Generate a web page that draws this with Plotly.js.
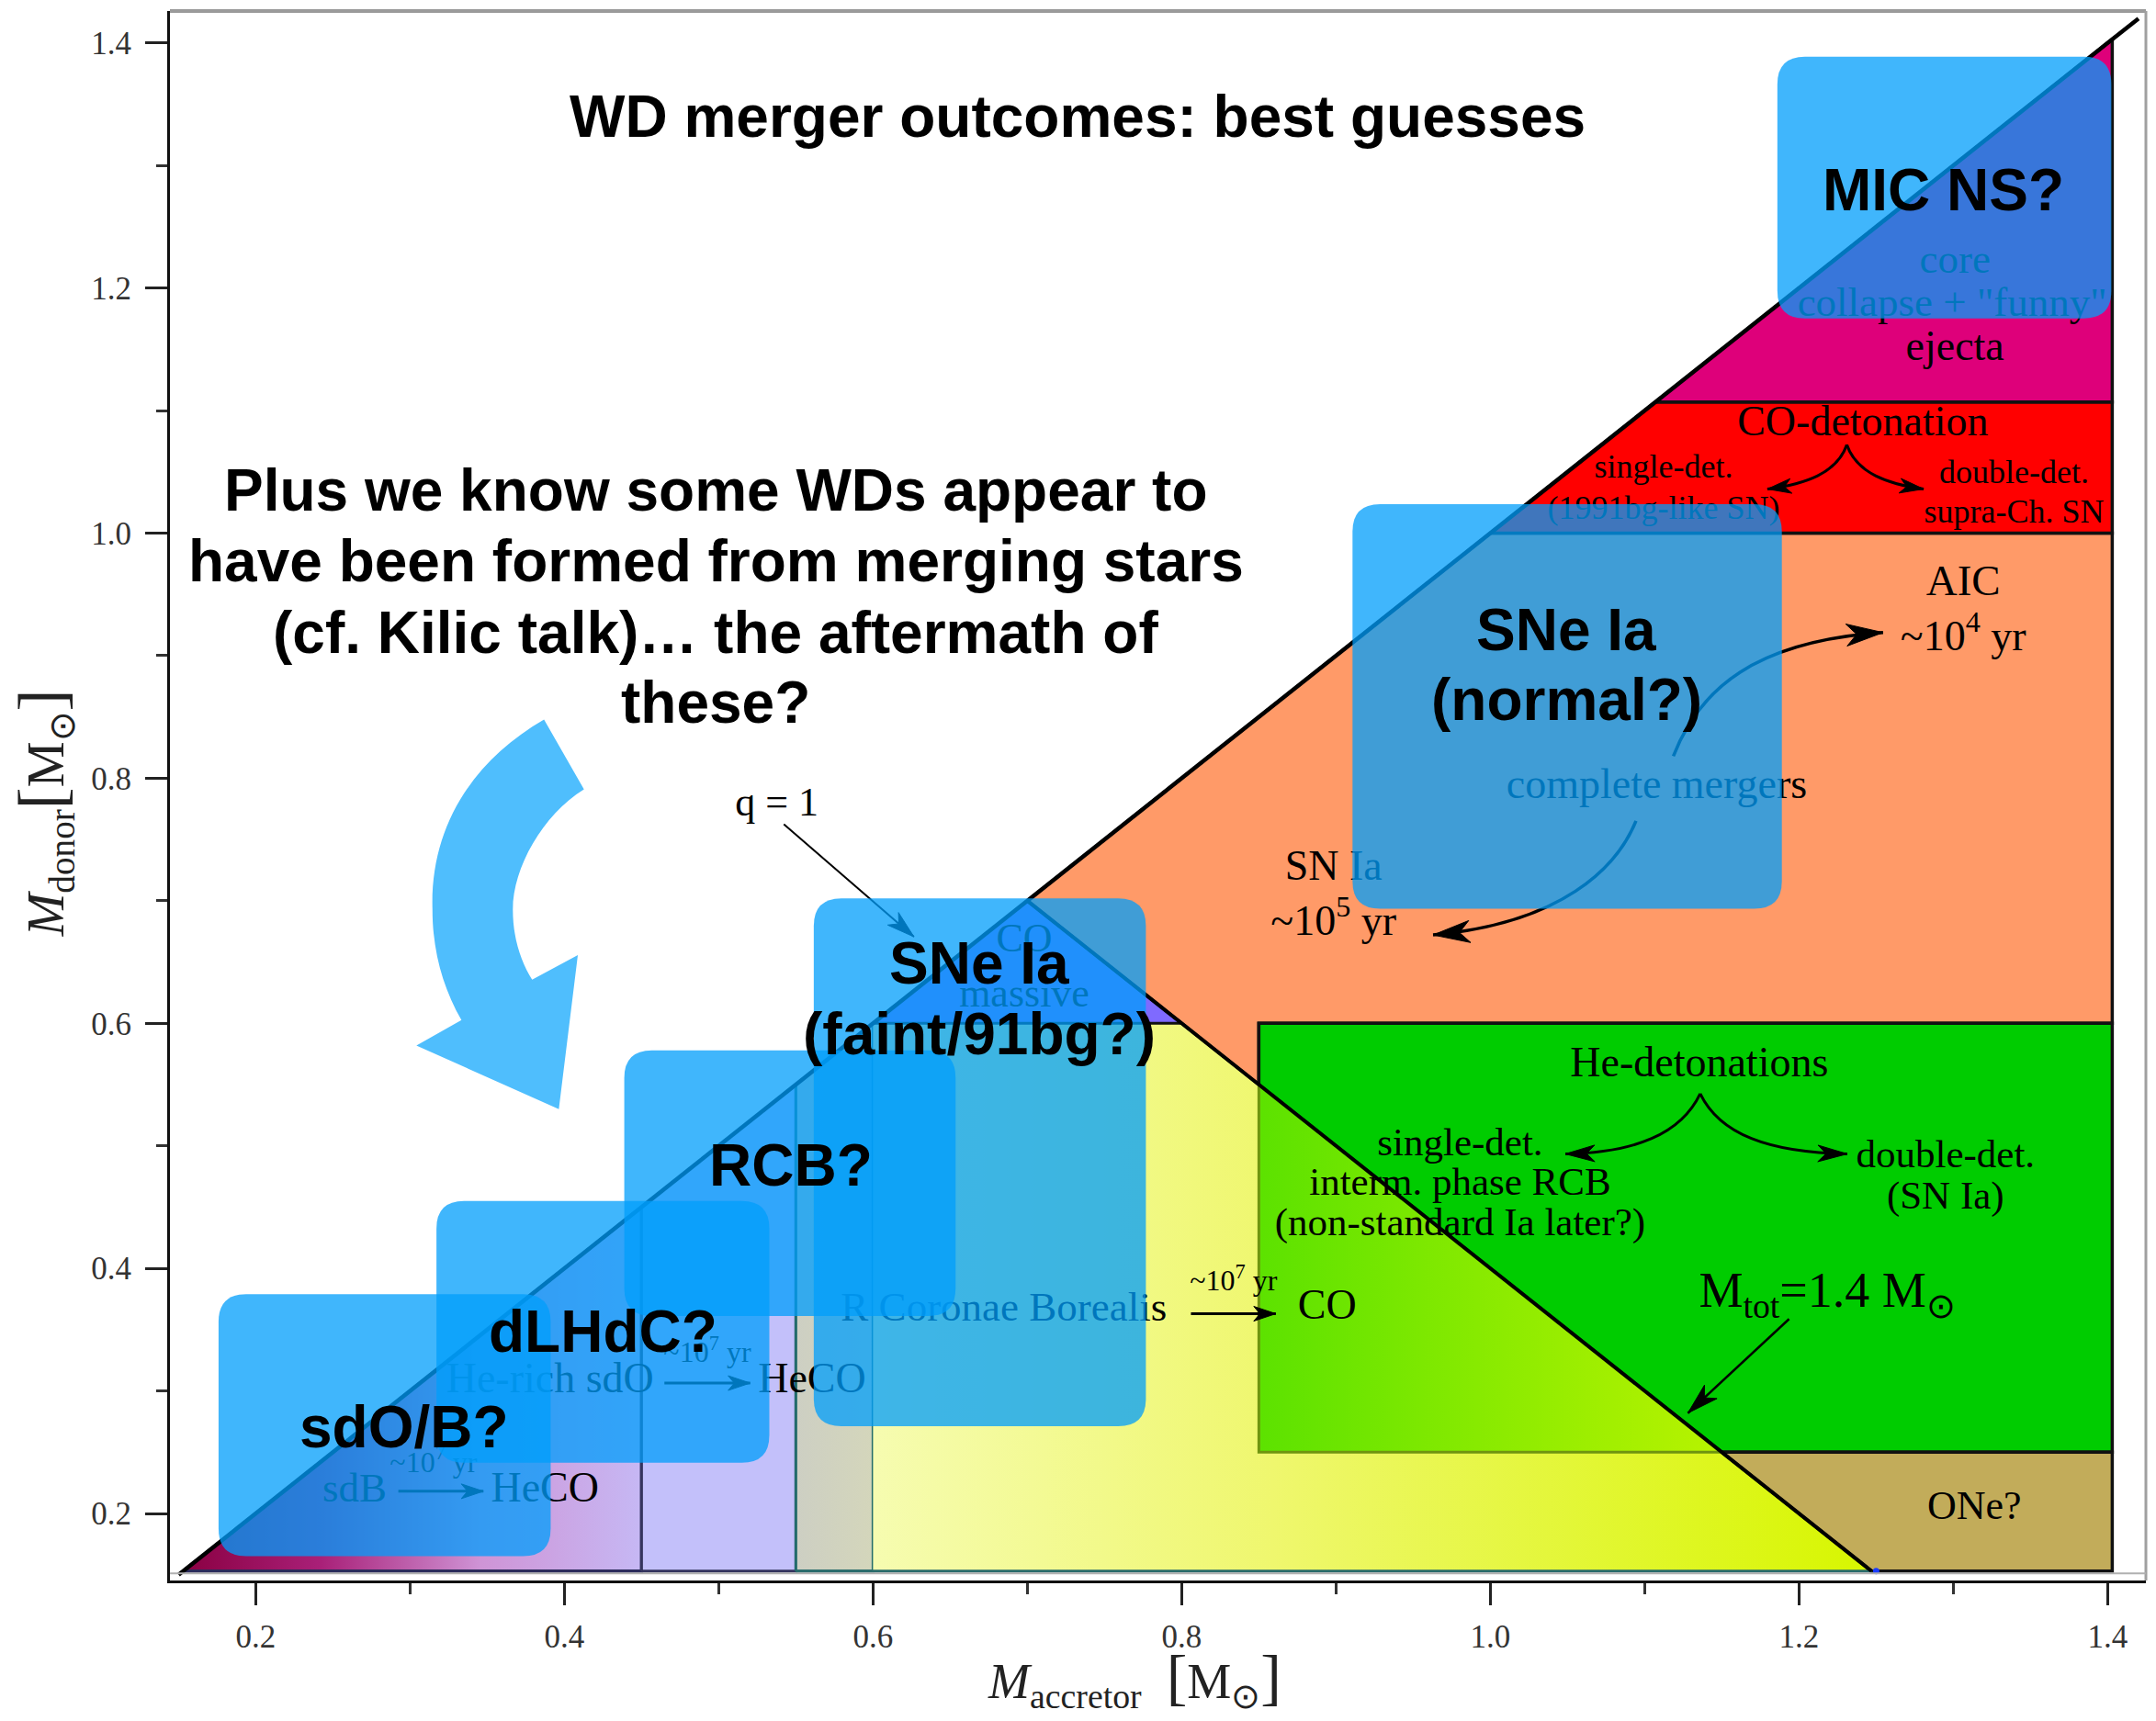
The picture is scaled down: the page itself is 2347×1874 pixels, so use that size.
<!DOCTYPE html>
<html><head><meta charset="utf-8">
<script src="https://cdn.plot.ly/plotly-3.0.1.min.js"></script>
<style>html,body{margin:0;padding:0;background:#fff;}#chart{width:2347px;height:1874px;}</style>
</head><body><div id="chart"></div>
<script>
// ---------- axes ----------
const xRange = [0.1444, 1.4248];
const yRange = [0.1453, 1.4261];
const majorTickVals = [0.2, 0.4, 0.6, 0.8, 1.0, 1.2, 1.4];
const majorTickText = ['0.2', '0.4', '0.6', '0.8', '1.0', '1.2', '1.4'];
const minorTickVals = [0.3, 0.5, 0.7, 0.9, 1.1, 1.3];

// ---------- regions (accretor mass, donor mass) ----------
const heX = [0.153, 0.45, 0.45, 0.153];
const heY = [0.153, 0.45, 0.153, 0.153];
const lavX = [0.45, 0.45, 0.55, 0.55, 0.45];
const lavY = [0.153, 0.45, 0.55, 0.153, 0.153];
const grayX = [0.55, 0.55, 0.60, 0.60, 0.55];
const grayY = [0.153, 0.55, 0.60, 0.153, 0.153];
const yelX = [0.60, 0.60, 0.80, 1.247, 0.60];
const yelY = [0.153, 0.60, 0.60, 0.153, 0.153];
const purX = [0.60, 0.70, 0.80, 0.60];
const purY = [0.60, 0.70, 0.60, 0.60];
const orX = [0.70, 1.00, 1.403, 1.403, 0.85, 0.85, 0.70];
const orY = [0.70, 1.00, 1.00, 0.60, 0.60, 0.55, 0.70];
const redX = [1.00, 1.107, 1.403, 1.403, 1.00];
const redY = [1.00, 1.107, 1.107, 1.00, 1.00];
const magX = [1.107, 1.403, 1.403, 1.107];
const magY = [1.107, 1.403, 1.107, 1.107];
const grnX = [0.85, 0.85, 1.403, 1.403, 1.15, 0.85];
const grnY = [0.55, 0.60, 0.60, 0.25, 0.25, 0.55];
const limeX = [0.85, 0.85, 1.15, 0.85];
const limeY = [0.25, 0.55, 0.25, 0.25];
const oneX = [1.15, 1.403, 1.403, 1.247, 1.15];
const oneY = [0.25, 0.25, 0.153, 0.153, 0.25];
const diagX = [0.150, 1.420];
const diagY = [0.150, 1.420];
const mtotX = [0.70, 1.247];
const mtotY = [0.70, 0.153];
const tealX = [0.55, 1.247];
const tealY = [0.153, 0.153];
const limeEdgeX = [0.85, 0.85, 1.15];
const limeEdgeY = [0.55, 0.25, 0.25];
const dotX = [1.25];
const dotY = [0.153];

// ---------- serif labels of the underlying diagram ----------
const labText = ['core', 'collapse + "funny"', 'ejecta', 'CO-detonation', 'single-det.', '(1991bg-like SN)',
  'double-det.', 'supra-Ch. SN', 'AIC', '~10<sup>4</sup> yr', 'complete mergers', 'SN Ia', '~10<sup>5</sup> yr',
  'q = 1', 'CO', 'massive', 'He-detonations', 'single-det.', 'interm. phase RCB', '(non-standard Ia later?)',
  'double-det.', '(SN Ia)', 'M<sub>tot</sub>=1.4 M<sub>⊙</sub>', 'ONe?', 'R Coronae Borealis', '~10<sup>7</sup> yr', 'CO',
  'He-rich sdO', '~10<sup>7</sup> yr', 'HeCO', 'sdB', '~10<sup>7</sup> yr', 'HeCO'];
const labX = [1.3011, 1.2993, 1.3011, 1.2414, 1.1123, 1.1123,
  1.3394, 1.3394, 1.3065, 1.3065, 1.1078, 0.8984, 0.8984,
  0.5376, 0.6980, 0.6980, 1.1354, 0.9804, 0.9804, 0.9804,
  1.2949, 1.2949, 1.2183, 1.3136, 0.6848, 0.8336, 0.8943,
  0.3907, 0.4926, 0.5605, 0.2640, 0.3152, 0.3874];
const labY = [1.2206, 1.1858, 1.1499, 1.0882, 1.0523, 1.0187,
  1.0479, 1.0153, 0.9582, 0.9133, 0.7922, 0.7260, 0.6811,
  0.7776, 0.6670, 0.6220, 0.5656, 0.5006, 0.4681, 0.4355,
  0.4905, 0.4569, 0.3785, 0.2034, 0.3661, 0.3880, 0.3675,
  0.3078, 0.3297, 0.3078, 0.2181, 0.2400, 0.2181];
const labSize = [45, 45, 46, 46, 36, 36,
  36, 36, 47, 46, 46, 46, 46,
  44, 44, 44, 46, 43, 43, 43,
  43, 43, 54, 44, 45, 32, 46,
  46, 32, 46, 45, 32, 46];

// ---------- arrows ----------
// straight: [x0, y0, x1, y1]
const straightArrows = [
  [0.5422, 0.7625, 0.6265, 0.6706],
  [1.1936, 0.3587, 1.1280, 0.2819],
  [0.8060, 0.3630, 0.8610, 0.3630],
  [0.4648, 0.3064, 0.5204, 0.3064],
  [0.2924, 0.2181, 0.3475, 0.2181]
];
const straightStyle = [[2, 30, 18], [2.5, 34, 20], [3, 24, 16], [3, 24, 16], [3, 24, 16]];
// curved (cubic): [x0, y0, c1x, c1y, c2x, c2y, x1, y1]
const curvedArrows = [
  [1.2310, 1.0721, 1.2248, 1.0489, 1.2039, 1.0400, 1.1795, 1.0360],
  [1.2310, 1.0721, 1.2372, 1.0489, 1.2580, 1.0400, 1.2808, 1.0360],
  [1.1360, 0.5426, 1.1235, 0.5095, 1.0938, 0.4945, 1.0486, 0.4934],
  [1.1360, 0.5426, 1.1486, 0.5095, 1.1801, 0.4945, 1.2313, 0.4934],
  [1.1186, 0.8180, 1.1355, 0.8728, 1.1712, 0.9118, 1.2545, 0.9189],
  [1.0944, 0.7652, 1.0819, 0.7267, 1.0462, 0.6818, 0.9629, 0.6721]
];
const curvedStyle = [[3, 26, 16], [3, 26, 16], [3, 32, 18], [3, 32, 18], [3.5, 40, 24], [3.5, 40, 24]];

// big curved blue arrow outline (data coords)
const bigArrowPath = [
  ['M', 0.3868, 0.8479],
  ['L', 0.4127, 0.7909],
  ['C', 0.3859, 0.7700, 0.3666, 0.7267, 0.3666, 0.6930],
  ['C', 0.3666, 0.6690, 0.3720, 0.6500, 0.3791, 0.6356],
  ['L', 0.4087, 0.6556],
  ['L', 0.3964, 0.5299],
  ['L', 0.3041, 0.5819],
  ['L', 0.3333, 0.6026],
  ['C', 0.3212, 0.6293, 0.3145, 0.6593, 0.3145, 0.6930],
  ['C', 0.3129, 0.7605, 0.3408, 0.8144, 0.3868, 0.8479]
];

// overlay boxes: [x0, x1, y0, y1]
const boxes = [
  [1.1860, 1.4024, 1.1753, 1.3889],
  [0.9107, 1.1889, 0.6935, 1.0237],
  [0.4388, 0.6535, 0.3612, 0.5780],
  [0.3171, 0.5328, 0.2415, 0.4550],
  [0.1759, 0.3911, 0.1651, 0.3790],
  [0.5616, 0.7768, 0.2712, 0.7020]
];

// bold overlay texts
const boldText = ['WD merger outcomes: best guesses', 'Plus we know some WDs appear to',
  'have been formed from merging stars', '(cf. Kilic talk)… the aftermath of', 'these?',
  'MIC NS?', 'SNe Ia', '(normal?)', 'SNe Ia', '(faint/91bg?)', 'RCB?', 'dLHdC?', 'sdO/B?'];
const boldX = [0.7324, 0.498, 0.498, 0.498, 0.498, 1.2937, 1.0493, 1.0493, 0.6686, 0.6686, 0.5466, 0.4250, 0.2963];
const boldY = [1.3396, 1.0347, 0.9772, 0.9189, 0.8617, 1.2799, 0.9210, 0.8641, 0.6490, 0.5910, 0.4838, 0.3481, 0.2705];

// ---------- build ----------
const W = 2347, H = 1874;
const M = {l: 185, r: 11, t: 12, b: 153};
const kx = (W - M.l - M.r) / (xRange[1] - xRange[0]);
const ky = (H - M.t - M.b) / (yRange[1] - yRange[0]);

function region(xs, ys, fill, lc, lw, grad) {
  const t = {type: 'scatter', mode: 'lines', x: xs, y: ys, fill: 'toself', fillcolor: fill,
    line: {color: lc || 'rgba(0,0,0,0)', width: lw || 0}, hoverinfo: 'skip', showlegend: false};
  if (grad) t.fillgradient = {type: 'horizontal', colorscale: grad};
  return t;
}
function line(xs, ys, c, w) {
  return {type: 'scatter', mode: 'lines', x: xs, y: ys, line: {color: c, width: w}, hoverinfo: 'skip', showlegend: false};
}

const traces = [
  region(heX, heY, '#b04080', '#2c2c5c', 3.5, [[0, '#8a0042'], [0.3, '#a92078'], [0.65, '#cf94d6'], [1, '#c6b8f4']]),
  region(lavX, lavY, '#c3c0fa', '#35355e', 3),
  region(grayX, grayY, '#cfd0c2', '#226b6b', 3, [[0, '#cdcfc3'], [1, '#d4d6bb']]),
  region(yelX, yelY, '#eef56a', null, 0, [[0, '#f6fcb0'], [0.4, '#eff76e'], [1, '#d7f600']]),
  region(purX, purY, '#7f6aff', '#111', 3),
  region(orX, orY, '#ff9a68', '#111', 3.5),
  region(redX, redY, '#ff0000', '#111', 3.5),
  region(magX, magY, '#de007a', '#111', 3.5),
  region(grnX, grnY, '#00cc00', '#111', 3.5),
  region(limeX, limeY, '#80ec00', null, 0, [[0, '#5ce200'], [1, '#b8f300']]),
  region(oneX, oneY, '#c2ac5a', '#111', 3.5),
  line(tealX, tealY, '#2a6b6b', 3),
  line(limeEdgeX, limeEdgeY, '#6f9410', 3),
  line(diagX, diagY, '#000', 4.5),
  line(mtotX, mtotY, '#000', 4),
  {type: 'scatter', mode: 'markers', x: dotX, y: dotY, marker: {color: '#1a3cff', size: 7}, hoverinfo: 'skip', showlegend: false},
  {type: 'scatter', mode: 'text', x: labX, y: labY, text: labText, textposition: 'middle center',
    textfont: {family: 'Liberation Serif', size: labSize, color: '#000'}, hoverinfo: 'skip', showlegend: false}
];

function headPath(tx, ty, fx, fy, L, Wd) {
  let dx = (tx - fx) * kx, dy = (ty - fy) * ky;
  const n = Math.hypot(dx, dy); dx /= n; dy /= n;
  const px = -dy, py = dx;
  const pt = (a, b) => [tx + a / kx, ty + b / ky];
  const bx = -L * dx, by = -L * dy;
  const l = pt(bx + px * Wd / 2, by + py * Wd / 2);
  const r = pt(bx - px * Wd / 2, by - py * Wd / 2);
  const nt = pt(-0.72 * L * dx, -0.72 * L * dy);
  return `M${tx},${ty} L${l[0]},${l[1]} L${nt[0]},${nt[1]} L${r[0]},${r[1]} Z`;
}
const shapes = [];
straightArrows.forEach((a, i) => {
  const [w, L, Wd] = straightStyle[i];
  shapes.push({type: 'path', xref: 'x', yref: 'y', layer: 'above', path: `M${a[0]},${a[1]} L${a[2]},${a[3]}`, line: {color: '#000', width: w}});
  shapes.push({type: 'path', xref: 'x', yref: 'y', layer: 'above', path: headPath(a[2], a[3], a[0], a[1], L, Wd), fillcolor: '#000', line: {color: '#000', width: 1}});
});
curvedArrows.forEach((a, i) => {
  const [w, L, Wd] = curvedStyle[i];
  shapes.push({type: 'path', xref: 'x', yref: 'y', layer: 'above', path: `M${a[0]},${a[1]} C${a[2]},${a[3]} ${a[4]},${a[5]} ${a[6]},${a[7]}`, line: {color: '#000', width: w}});
  shapes.push({type: 'path', xref: 'x', yref: 'y', layer: 'above', path: headPath(a[6], a[7], a[4], a[5], L, Wd), fillcolor: '#000', line: {color: '#000', width: 1}});
});
// big blue arrow
shapes.push({type: 'path', xref: 'x', yref: 'y', layer: 'above',
  path: bigArrowPath.map(s => s[0] + s.slice(1).reduce((acc, v, j) => acc + (j % 2 === 0 ? (j ? ' ' : '') + v : ',' + v), '')).join(' ') + ' Z',
  fillcolor: '#4fbefd', line: {width: 0}});
// rounded boxes
const R = 30;
boxes.forEach(b => {
  const [x0, x1, y0, y1] = b; const rx = R / kx, ry = R / ky;
  const p = `M${x0 + rx},${y1} L${x1 - rx},${y1} Q${x1},${y1} ${x1},${y1 - ry} L${x1},${y0 + ry} Q${x1},${y0} ${x1 - rx},${y0} L${x0 + rx},${y0} Q${x0},${y0} ${x0},${y0 + ry} L${x0},${y1 - ry} Q${x0},${y1} ${x0 + rx},${y1} Z`;
  shapes.push({type: 'path', xref: 'x', yref: 'y', layer: 'above', path: p, fillcolor: 'rgb(0,157,251)', opacity: 0.75, line: {width: 0}});
});
// gray frame
shapes.push({type: 'line', xref: 'paper', yref: 'paper', x0: 0, x1: 1, y0: 1, y1: 1, line: {color: '#9a9a9a', width: 4}, layer: 'above'});
shapes.push({type: 'line', xref: 'paper', yref: 'paper', x0: 1, x1: 1, y0: 0, y1: 1, line: {color: '#a0a0a0', width: 3}, layer: 'above'});
shapes.push({type: 'line', xref: 'paper', yref: 'paper', x0: 0, x1: 1, y0: 0.0045, y1: 0.0045, line: {color: '#b0b0b0', width: 2}, layer: 'above'});

const annotations = boldText.map((t, i) => ({
  x: boldX[i], y: boldY[i], xref: 'x', yref: 'y', text: '<b>' + t + '</b>', showarrow: false,
  xanchor: 'center', yanchor: 'middle', font: {family: 'Liberation Sans', size: 64, color: '#000'}
}));
annotations.push({xref: 'paper', yref: 'paper', x: 0.4881, y: -0.0625, xanchor: 'center', yanchor: 'middle', showarrow: false,
  text: '<i>M</i><sub>accretor</sub>  <span style="font-size:68px">[</span>M<sub>⊙</sub><span style="font-size:68px">]</span>',
  font: {family: 'Liberation Serif', size: 54, color: '#222'}});
annotations.push({xref: 'paper', yref: 'paper', x: -0.0640, y: 0.4892, xanchor: 'center', yanchor: 'middle', showarrow: false, textangle: -90,
  text: '<i>M</i><sub>donor</sub><span style="font-size:72px">[</span>M<sub>⊙</sub><span style="font-size:72px">]</span>',
  font: {family: 'Liberation Serif', size: 56, color: '#222'}});

const axisCommon = {
  tickmode: 'array', tickvals: majorTickVals, ticktext: majorTickText,
  ticks: 'outside', ticklen: 24, tickwidth: 3, tickcolor: '#222',
  minor: {tickmode: 'array', tickvals: minorTickVals, ticks: 'outside', ticklen: 12, tickwidth: 3, tickcolor: '#333', showgrid: false},
  showline: true, linecolor: '#111', linewidth: 3, showgrid: false, zeroline: false,
  tickfont: {family: 'Liberation Serif', size: 35, color: '#333'}, fixedrange: true
};
const layout = {
  width: W, height: H, margin: M, paper_bgcolor: '#fff', plot_bgcolor: '#fff', showlegend: false,
  xaxis: Object.assign({}, axisCommon, {range: xRange, ticklabelstandoff: 4}),
  yaxis: Object.assign({}, axisCommon, {range: yRange, ticklabelstandoff: 8}),
  shapes: shapes, annotations: annotations
};
Plotly.newPlot('chart', traces, layout, {displayModeBar: false, staticPlot: true});
</script></body></html>
